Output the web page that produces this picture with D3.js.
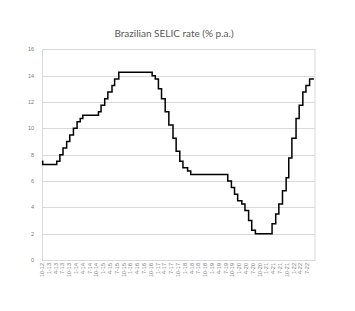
<!DOCTYPE html>
<html><head><meta charset="utf-8">
<script src="https://cdn.jsdelivr.net/npm/d3@7"></script>
<style>body{margin:0;background:#fff}svg{display:block}</style>
</head><body>
<script>
// SELIC target changes (date of change, new rate % p.a.)
const changeDates = ["2012-10-01","2012-10-10","2013-04-17","2013-05-29","2013-07-10","2013-08-28","2013-10-09","2013-11-27","2014-01-15","2014-02-26","2014-04-02","2014-10-29","2014-12-03","2015-01-21","2015-03-04","2015-04-29","2015-06-03","2015-07-29","2016-10-19","2016-11-30","2017-01-11","2017-02-22","2017-04-12","2017-05-31","2017-07-26","2017-09-06","2017-10-25","2017-12-06","2018-02-07","2018-03-21","2019-07-31","2019-09-18","2019-10-30","2019-12-11","2020-02-05","2020-03-18","2020-05-06","2020-06-17","2020-08-05","2021-03-17","2021-05-05","2021-06-16","2021-08-04","2021-09-22","2021-10-27","2021-12-08","2022-02-02","2022-03-16","2022-05-04","2022-06-15","2022-08-03","2022-09-30"];
const rates = [7.5,7.25,7.5,8,8.5,9,9.5,10,10.5,10.75,11,11.25,11.75,12.25,12.75,13.25,13.75,14.25,14,13.75,13,12.25,11.25,10.25,9.25,8.25,7.5,7,6.75,6.5,6,5.5,5,4.5,4.25,3.75,3,2.25,2,2.75,3.5,4.25,5.25,6.25,7.75,9.25,10.75,11.75,12.75,13.25,13.75,13.75];
const yTicks = [0,2,4,6,8,10,12,14,16];
const xTickLabels = ["10-12","1-13","4-13","7-13","10-13","1-14","4-14","7-14","10-14","1-15","4-15","7-15","10-15","1-16","4-16","7-16","10-16","1-17","4-17","7-17","10-17","1-18","4-18","7-18","10-18","1-19","4-19","7-19","10-19","1-20","4-20","7-20","10-20","1-21","4-21","7-21","10-21","1-22","4-22","7-22"];
const title = "Brazilian SELIC rate (% p.a.)";

const W = 355, H = 311;
const parse = d3.timeParse("%Y-%m-%d");
const parseTick = d3.timeParse("%m-%y");
const data = changeDates.map((d,i)=>({date: parse(d), v: rates[i]}));

const svg = d3.select("body").append("svg").attr("width",W).attr("height",H);

const x = d3.scaleTime().domain([parse("2012-10-01"), parse("2022-10-01")]).range([42, 314]);
const y = d3.scaleLinear().domain([0,16]).range([260, 49.3]);

// gridlines
svg.append("g").selectAll("line").data(yTicks).join("line")
  .attr("x1",42).attr("x2",315)
  .attr("y1",d=>Math.round(y(d))+0.5).attr("y2",d=>Math.round(y(d))+0.5)
  .attr("stroke","#d9d9d9").attr("stroke-width",1);

// plot border
svg.append("rect").attr("x",42.5).attr("y",Math.round(y(16))+0.5)
  .attr("width",272.5).attr("height",Math.round(y(0))-Math.round(y(16)))
  .attr("fill","none").attr("stroke","#d9d9d9");

// y labels
svg.append("g").selectAll("text").data(yTicks).join("text")
  .attr("x",34).attr("y",d=>y(d)+2)
  .attr("text-anchor","end")
  .attr("font-family","Liberation Sans, Arial, sans-serif")
  .attr("font-size",5.5).attr("fill","#7a7a7a")
  .text(d=>d);

// x labels (rotated)
svg.append("g").selectAll("text").data(xTickLabels).join("text")
  .attr("transform",d=>`translate(${x(parseTick(d))+2},263) rotate(-90)`)
  .attr("text-anchor","end")
  .attr("font-family","Liberation Sans, Arial, sans-serif")
  .attr("font-size",5.5).attr("fill","#7a7a7a")
  .text(d=>d);

// line
const line = d3.line().x(d=>x(d.date)).y(d=>y(d.v)).curve(d3.curveStepAfter);
svg.append("path").datum(data).attr("d",line)
  .attr("fill","none").attr("stroke","#000").attr("stroke-width",1.5)
  .attr("stroke-linejoin","miter");

// title
svg.append("text").attr("x",174).attr("y",36.5).attr("text-anchor","middle")
  .attr("font-family","Lato, Liberation Sans, sans-serif")
  .attr("font-size",10).attr("fill","#595959")
  .text(title);
</script>
</body></html>
